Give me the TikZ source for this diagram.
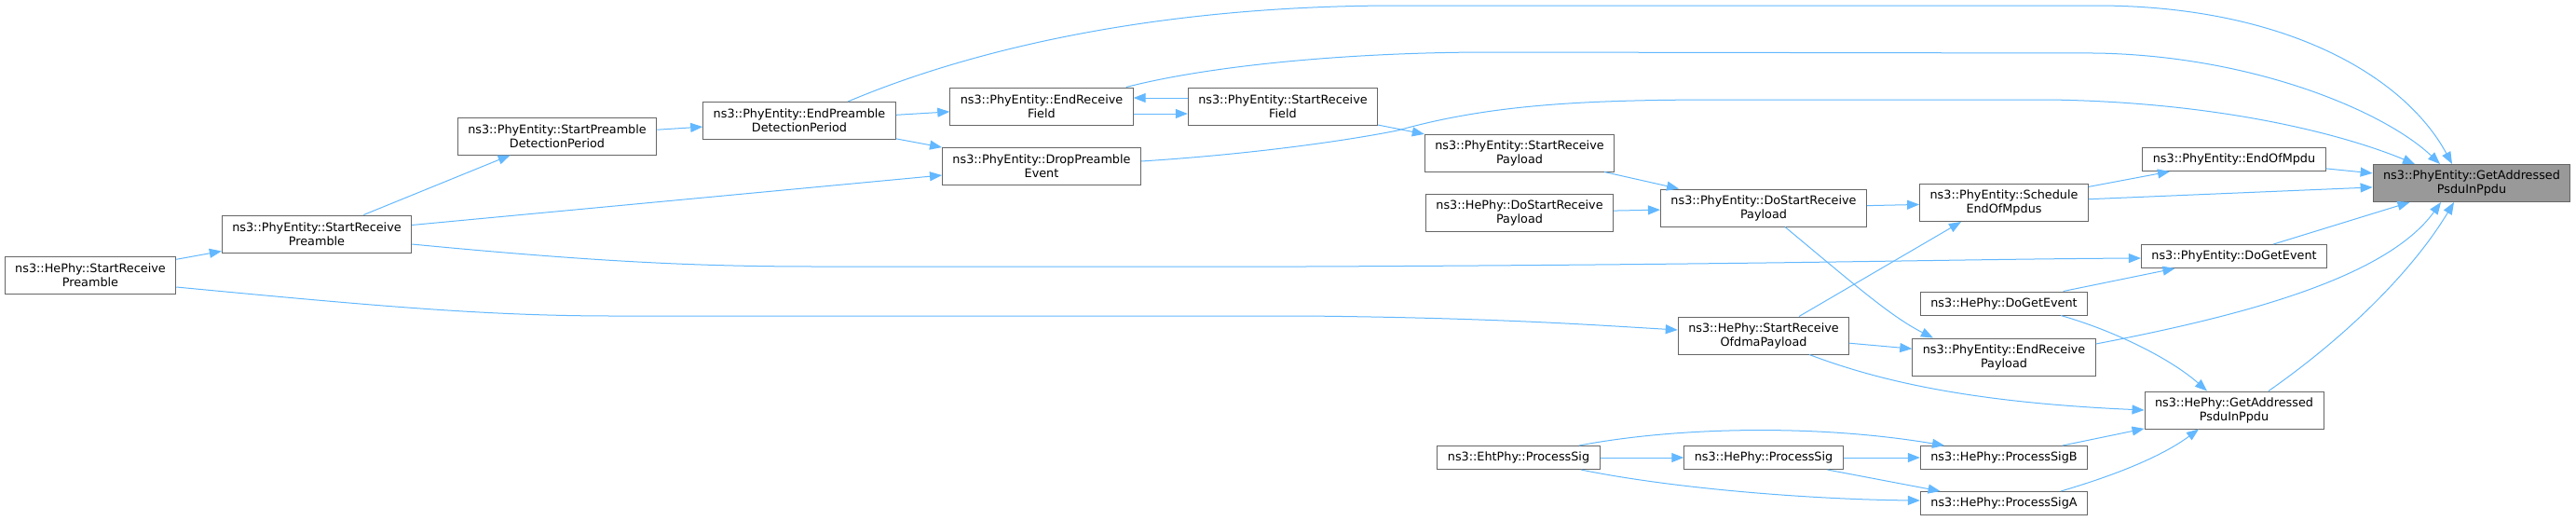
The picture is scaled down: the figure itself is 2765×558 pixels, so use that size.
\documentclass[tikz,border=0pt]{standalone}
\usepackage{fontspec}
\setmainfont{DejaVu Sans}
\usetikzlibrary{arrows.meta}
\definecolor{edgeblue}{HTML}{63B8FF}
\definecolor{boxgray}{HTML}{666666}
\definecolor{hitgray}{HTML}{999999}
\begin{document}
\begin{tikzpicture}[x=1pt, y=-1pt,
  fn/.style={draw=boxgray, fill=white, line width=1pt, align=center,
    font=\fontsize{12.8}{15}\selectfont, inner xsep=11pt, inner ysep=6pt,
    minimum height=25pt},
  tall/.style={minimum height=40pt},
  call/.style={draw=edgeblue, line width=1pt, -{Triangle[length=13pt,width=10pt]}}]
\useasboundingbox (0,0) rectangle (2765,558);

\node[fn, tall] (hsrp) at (97,295) {ns3::HePhy::StartReceive\\Preamble};
\node[fn, tall] (psrp) at (340,251) {ns3::PhyEntity::StartReceive\\Preamble};
\node[fn, tall] (pspdp) at (598,146) {ns3::PhyEntity::StartPreamble\\DetectionPeriod};
\node[fn, tall] (pepdp) at (858,129.5) {ns3::PhyEntity::EndPreamble\\DetectionPeriod};
\node[fn, tall] (perf) at (1118,114) {ns3::PhyEntity::EndReceive\\Field};
\node[fn, tall] (pdpe) at (1118,178) {ns3::PhyEntity::DropPreamble\\Event};
\node[fn, tall] (psrf) at (1377,114) {ns3::PhyEntity::StartReceive\\Field};
\node[fn, tall] (psrpl) at (1631,164) {ns3::PhyEntity::StartReceive\\Payload};
\node[fn, tall] (hdsrp) at (1631,228) {ns3::HePhy::DoStartReceive\\Payload};
\node[fn, tall] (pdsrp) at (1893,223) {ns3::PhyEntity::DoStartReceive\\Payload};
\node[fn, tall] (hsrop) at (1893,360) {ns3::HePhy::StartReceive\\OfdmaPayload};
\node[fn] (epsig) at (1630,491) {ns3::EhtPhy::ProcessSig};
\node[fn] (hpsig) at (1893,491) {ns3::HePhy::ProcessSig};
\node[fn, tall] (psem) at (2151,217.5) {ns3::PhyEntity::Schedule\\EndOfMpdus};
\node[fn] (hdge) at (2151,325.5) {ns3::HePhy::DoGetEvent};
\node[fn, tall] (perp) at (2151,383) {ns3::PhyEntity::EndReceive\\Payload};
\node[fn] (hpsb) at (2151,491) {ns3::HePhy::ProcessSigB};
\node[fn] (hpsa) at (2151,540) {ns3::HePhy::ProcessSigA};
\node[fn] (peom) at (2398,171) {ns3::PhyEntity::EndOfMpdu};
\node[fn] (pdge) at (2398,275) {ns3::PhyEntity::DoGetEvent};
\node[fn, tall] (hgap) at (2398,440) {ns3::HePhy::GetAddressed\\PsduInPpdu};
\node[fn, tall, fill=hitgray] (target) at (2653,196.5) {ns3::PhyEntity::GetAddressed\\PsduInPpdu};

\draw[call] (hsrp) -- (psrp);
\draw[call] (psrp) -- (pspdp);
\draw[call] (pspdp) -- (pepdp);
\draw[call] (pepdp) -- (perf);
\draw[call] (pepdp) -- (pdpe);
\draw[call] ([yshift=-8pt]perf.east) -- ([yshift=-8pt]psrf.west);
\draw[call] ([yshift=9pt]psrf.west) -- ([yshift=9pt]perf.east);
\draw[call] (psrf) -- (psrpl);
\draw[call] (psrp) -- (pdpe);
\draw[call] ([yshift=-11pt]psrp.east) .. controls (650,282) and (760,286) .. (880,286) -- (1400,286) .. controls (1900,284) and (2100,278) .. ([yshift=-2pt]pdge.west);
\draw[call] ([yshift=-13pt]hsrp.east) .. controls (400,328) and (520,339) .. (660,339) -- (1400,339) .. controls (1600,341) and (1700,348) .. ([yshift=6pt]hsrop.west);
\draw[call] ([xshift=52pt]pepdp.north) .. controls (1050,50) and (1250,6) .. (1500,6) -- (2250,6) .. controls (2450,6) and (2580,80) .. ([xshift=-21pt]target.north);
\draw[call] ([xshift=-8pt]perf.north east) .. controls (1300,70) and (1450,56) .. (1600,56) -- (2250,57) .. controls (2420,60) and (2560,120) .. ([xshift=-34pt]target.north);
\draw[call] ([yshift=5pt]pdpe.east) .. controls (1350,165) and (1450,150) .. (1500,140) .. controls (1600,112) and (1700,107) .. (1850,107) -- (2200,107) .. controls (2400,110) and (2530,150) .. ([xshift=-61pt]target.north);
\draw[call] (psrpl) -- (pdsrp);
\draw[call] (hdsrp) -- (pdsrp);
\draw[call] (pdsrp) -- (psem);
\draw[call] ([xshift=23pt]pdsrp.south) .. controls (1990,305) and (2030,340) .. ([xshift=-76pt]perp.north);
\draw[call] ([xshift=38pt]hsrop.north) -- ([xshift=-46pt]psem.south);
\draw[call] (hsrop) -- (perp);
\draw[call] ([xshift=49pt]hsrop.south) .. controls (2020,410) and (2120,432) .. (hgap.west);
\draw[call] (psem) -- (peom);
\draw[call] (psem) -- (target);
\draw[call] (peom) -- (target);
\draw[call] (pdge) -- (target);
\draw[call] (hdge) -- (pdge);
\draw[call] ([xshift=61pt]hdge.south) .. controls (2270,355) and (2330,385) .. ([xshift=-29pt]hgap.north);
\draw[call] ([yshift=14pt]perp.east) .. controls (2400,340) and (2560,300) .. ([xshift=-33pt]target.south);
\draw[call] ([xshift=37pt]hgap.north) .. controls (2520,360) and (2590,290) .. ([xshift=-19pt]target.south);
\draw[call] (hpsb) -- (hgap);
\draw[call] ([xshift=61pt]hpsa.north) .. controls (2270,510) and (2320,490) .. ([xshift=-38pt]hgap.south);
\draw[call] ([xshift=65pt]epsig.north) .. controls (1800,458) and (1950,455) .. ([xshift=-64pt]hpsb.north);
\draw[call] (epsig) -- (hpsig);
\draw[call] (hpsig) -- (hpsb);
\draw[call] (hpsig) -- (hpsa);
\draw[call] ([xshift=67pt]epsig.south) .. controls (1800,525) and (1950,536) .. ([yshift=3pt]hpsa.west);
\end{tikzpicture}
\end{document}
